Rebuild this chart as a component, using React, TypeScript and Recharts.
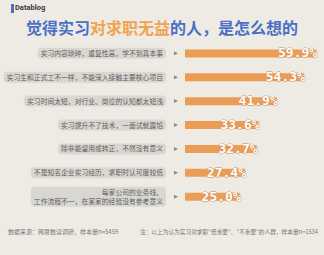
import { Bar, BarChart, LabelList, XAxis, YAxis } from "recharts";

const reasons = [
  ["实习内容琐碎，重复性高，学不到真本事"],
  ["实习生和正式工不一样，不能深入接触主要核心项目"],
  ["实习时间太短，对行业、岗位的认知都太短浅"],
  ["实习提升不了技术，一面试就露馅"],
  ["除非能留用或转正，不然没有意义"],
  ["不是知名企业实习经历，求职时认可度较低"],
  ["每家公司的业务线、", "工作流程不一，在某家的经验没有参考意义"],
];

const shares = [59.9, 54.3, 41.9, 33.6, 32.7, 27.4, 25.0];

const data = reasons.map((lines, i) => ({ key: String(i), lines, share: shares[i] }));

const CJK = '"Noto Sans CJK SC", sans-serif';

function ReasonTick({ y, payload }: any) {
  const lines: string[] = data[Number(payload.value)].lines;
  const charW = 6.8;
  const longest = Math.max(...lines.map((l) => l.length));
  const boxW = longest * charW + 6;
  const boxH = lines.length === 1 ? 11 : 20;
  const right = 166;
  return (
    <g>
      <rect x={right - boxW} y={y - boxH / 2} width={boxW} height={boxH} rx={4} fill="#d9d7d1" />
      {lines.map((line, i) => (
        <text
          key={i}
          x={right - 3}
          y={y - (lines.length - 1) * 4.5 + i * 9 + 2.5}
          textAnchor="end"
          fontSize={6.8}
          fill="#5e5e5e"
          fontFamily={CJK}
        >
          {line}
        </text>
      ))}
      <path d={`M174 ${y - 2} L178 ${y} L174 ${y + 2} Z`} fill="#8a8a8a" />
    </g>
  );
}

function ShareLabel({ x, y, width, height, value }: any) {
  return (
    <text
      x={x + width + 1}
      y={y + height / 2 + 4}
      textAnchor="end"
      fontSize={13}
      fontWeight="bold"
      fontFamily='"DejaVu Sans Mono", monospace'
      fill="#ffffff"
      stroke="#c98a4e"
      strokeWidth={0.8}
      paintOrder="stroke"
    >
      {`${Number(value).toFixed(1)}%`}
    </text>
  );
}

export default function App() {
  return (
    <div
      style={{
        position: "absolute",
        left: 0,
        top: 0,
        width: 324,
        height: 255,
        background: "#eeebe4",
        overflow: "hidden",
        fontFamily: CJK,
      }}
    >
      <div style={{ position: "absolute", left: 11, top: 4, width: 2.5, height: 9, background: "#4a6fc4" }} />
      <div
        style={{
          position: "absolute",
          left: 15,
          top: 3,
          fontSize: 7.5,
          lineHeight: "10px",
          fontWeight: 700,
          color: "#3a3a3a",
          fontFamily: "Roboto, sans-serif",
        }}
      >
        Datablog
      </div>
      <div
        style={{
          position: "absolute",
          left: 0,
          width: 324,
          top: 16,
          textAlign: "center",
          fontSize: 16,
          fontWeight: 700,
          color: "#4a6fc4",
          lineHeight: "22px",
        }}
      >
        觉得实习<span style={{ color: "#f0a24e" }}>对求职无益</span>的人，是怎么想的
      </div>

      <div style={{ position: "absolute", left: 0, top: 0 }}>
        <BarChart
          width={324}
          height={255}
          data={data}
          layout="vertical"
          margin={{ top: 41.4, right: 7.6, left: 0, bottom: 46.4 }}
        >
          <XAxis type="number" domain={[0, 60]} hide />
          <YAxis
            type="category"
            dataKey="key"
            width={185}
            tick={<ReasonTick />}
            tickLine={false}
            axisLine={false}
            interval={0}
          />
          <Bar dataKey="share" fill="#eb9c55" barSize={8} isAnimationActive={false}>
            <LabelList dataKey="share" content={<ShareLabel />} />
          </Bar>
        </BarChart>
      </div>

      <div style={{ position: "absolute", left: 8, top: 228, fontSize: 6, lineHeight: "8px", color: "#777", whiteSpace: "nowrap" }}>
        数据来源：网易数读调研，样本量n=5459
      </div>
      <div style={{ position: "absolute", left: 140, top: 228, fontSize: 5.7, lineHeight: "8px", color: "#777", whiteSpace: "nowrap" }}>
        注：以上为认为实习对求职"低重要"、"不重要"的人群，样本量n=1534
      </div>
    </div>
  );
}
